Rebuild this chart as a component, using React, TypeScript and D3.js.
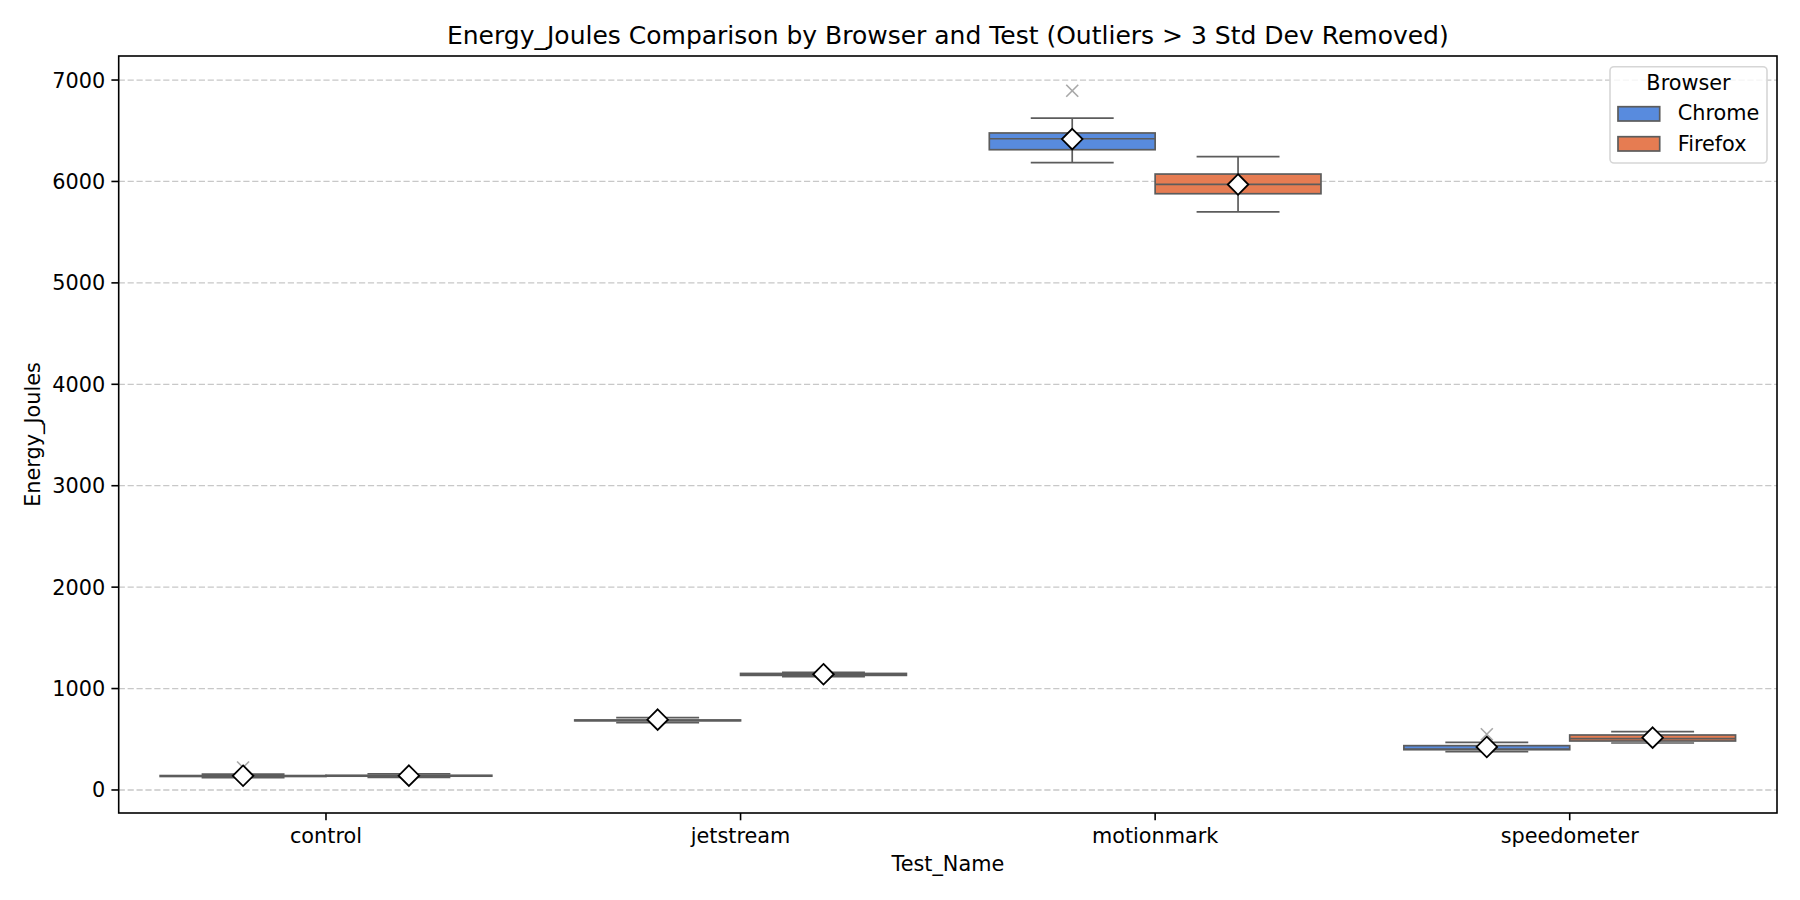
import React, { useEffect } from 'react';
import * as d3 from 'd3';

const tests = ['control', 'jetstream', 'motionmark', 'speedometer'];
const browsers = ['Chrome', 'Firefox'];
const browserColors = ['#588bde', '#e67c52'];
const yTicks = [0, 1000, 2000, 3000, 4000, 5000, 6000, 7000];

// box statistics, one value per test (control, jetstream, motionmark, speedometer)
const chromeWhiskerLow = [121, 665, 6185, 378];
const chromeQ1 = [133, 682, 6313, 397];
const chromeMedian = [138, 686, 6421, 404];
const chromeQ3 = [142, 690, 6478, 437];
const chromeWhiskerHigh = [156, 713, 6625, 470];
const chromeMean = [140, 693, 6418, 424];

const firefoxWhiskerLow = [124, 1118, 5701, 463];
const firefoxQ1 = [136, 1130, 5879, 483];
const firefoxMedian = [140, 1139, 5972, 506];
const firefoxQ3 = [145, 1149, 6073, 542];
const firefoxWhiskerHigh = [158, 1160, 6244, 575];
const firefoxMean = [141, 1141, 5970, 516];

// outliers kept after the 3 std dev filter: [test, browser, value]
const outliers: [string, string, number][] = [
  ['control', 'Chrome', 222],
  ['motionmark', 'Chrome', 6894],
  ['speedometer', 'Chrome', 549],
];

const stats = [
  { lo: chromeWhiskerLow, q1: chromeQ1, med: chromeMedian, q3: chromeQ3, hi: chromeWhiskerHigh, mean: chromeMean },
  { lo: firefoxWhiskerLow, q1: firefoxQ1, med: firefoxMedian, q3: firefoxQ3, hi: firefoxWhiskerHigh, mean: firefoxMean },
];

const W = 1800;
const H = 900;
const left = 118.7;
const right = 1777;
const top = 56;
const bottom = 813;
const FONT = '"DejaVu Sans", sans-serif';
const LINE = '#5c5c5c';

export default function App() {
  useEffect(() => {
    document.body.style.margin = '0';
  }, []);

  const x = d3.scaleBand<string>().domain(tests).range([left, right]);
  const hue = d3.scaleBand<string>().domain(browsers).range([0, x.bandwidth()]).paddingOuter(0.25);
  const y = d3.scaleLinear().domain([-227, 7237]).range([bottom, top]);
  const bw = hue.bandwidth();
  const r = 10.3;
  const diamond = (cx: number, cy: number) =>
    `M${cx},${cy - r}L${cx + r},${cy}L${cx},${cy + r}L${cx - r},${cy}Z`;

  const legendX = 1610;
  const legendY = 66.7;

  return (
    <svg width={W} height={H} style={{ display: 'block', background: '#fff' }} fontFamily={FONT}>
      <rect x={0} y={0} width={W} height={H} fill="#fff" />

      {/* grid */}
      {yTicks.map((t) => (
        <line key={t} x1={left} x2={right} y1={y(t)} y2={y(t)}
          stroke="#c8c8c8" strokeWidth={1.3} strokeDasharray="6.2,2.7" />
      ))}

      {/* boxes */}
      {browsers.map((b, bi) => {
        const s = stats[bi];
        return tests.map((t, ti) => {
          const x0 = (x(t) ?? 0) + (hue(b) ?? 0);
          const cx = x0 + bw / 2;
          const capHalf = bw / 4;
          return (
            <g key={b + t}>
              <rect x={x0} y={y(s.q3[ti])} width={bw} height={Math.max(0.1, y(s.q1[ti]) - y(s.q3[ti]))}
                fill={browserColors[bi]} stroke={LINE} strokeWidth={1.7} />
              <line x1={cx} x2={cx} y1={y(s.q1[ti])} y2={y(s.lo[ti])} stroke={LINE} strokeWidth={1.7} />
              <line x1={cx} x2={cx} y1={y(s.q3[ti])} y2={y(s.hi[ti])} stroke={LINE} strokeWidth={1.7} />
              <line x1={cx - capHalf} x2={cx + capHalf} y1={y(s.lo[ti])} y2={y(s.lo[ti])} stroke={LINE} strokeWidth={1.7} />
              <line x1={cx - capHalf} x2={cx + capHalf} y1={y(s.hi[ti])} y2={y(s.hi[ti])} stroke={LINE} strokeWidth={1.7} />
              <line x1={x0} x2={x0 + bw} y1={y(s.med[ti])} y2={y(s.med[ti])} stroke={LINE} strokeWidth={1.7} />
            </g>
          );
        });
      })}

      {/* outliers */}
      {outliers.map(([t, b, v], i) => {
        const cx = (x(t) ?? 0) + (hue(b) ?? 0) + bw / 2;
        const cy = y(v);
        const d = 6;
        return (
          <g key={i} stroke="#a8a8a8" strokeWidth={1.6}>
            <line x1={cx - d} x2={cx + d} y1={cy - d} y2={cy + d} />
            <line x1={cx - d} x2={cx + d} y1={cy + d} y2={cy - d} />
          </g>
        );
      })}

      {/* means */}
      {browsers.map((b, bi) =>
        tests.map((t, ti) => {
          const cx = (x(t) ?? 0) + (hue(b) ?? 0) + bw / 2;
          return (
            <path key={b + t} d={diamond(cx, y(stats[bi].mean[ti]))}
              fill="#fff" stroke="#000" strokeWidth={1.8} />
          );
        })
      )}

      {/* frame */}
      <rect x={left} y={top} width={right - left} height={bottom - top}
        fill="none" stroke="#000" strokeWidth={1.6} />

      {/* y axis */}
      {yTicks.map((t) => (
        <g key={t}>
          <line x1={left - 7.3} x2={left} y1={y(t)} y2={y(t)} stroke="#000" strokeWidth={1.6} />
          <text x={left - 13.5} y={y(t) + 7.5} textAnchor="end" fontSize={20.8}>{t}</text>
        </g>
      ))}

      {/* x axis */}
      {tests.map((t) => {
        const cx = (x(t) ?? 0) + x.bandwidth() / 2;
        return (
          <g key={t}>
            <line x1={cx} x2={cx} y1={bottom} y2={bottom + 7.3} stroke="#000" strokeWidth={1.6} />
            <text x={cx} y={843} textAnchor="middle" fontSize={20.8}>{t}</text>
          </g>
        );
      })}

      <text x={(left + right) / 2} y={871} textAnchor="middle" fontSize={20.8}>Test_Name</text>
      <text transform={`translate(40,${(top + bottom) / 2}) rotate(-90)`} textAnchor="middle" fontSize={20.8}>
        Energy_Joules
      </text>
      <text x={(left + right) / 2} y={44} textAnchor="middle" fontSize={25}>
        Energy_Joules Comparison by Browser and Test (Outliers &gt; 3 Std Dev Removed)
      </text>

      {/* legend */}
      <g>
        <rect x={legendX} y={legendY} width={157} height={96.3} rx={4} fill="#fff" fillOpacity={0.8}
          stroke="#d6d6d6" strokeWidth={1.6} />
        <text x={legendX + 78.5} y={90} textAnchor="middle" fontSize={20.8}>Browser</text>
        {browsers.map((b, i) => (
          <g key={b}>
            <rect x={1618} y={106.7 + i * 30} width={41.7} height={14.3}
              fill={browserColors[i]} stroke={LINE} strokeWidth={1.7} />
            <text x={1677.7} y={120 + i * 30.7} fontSize={20.8}>{b}</text>
          </g>
        ))}
      </g>
    </svg>
  );
}
